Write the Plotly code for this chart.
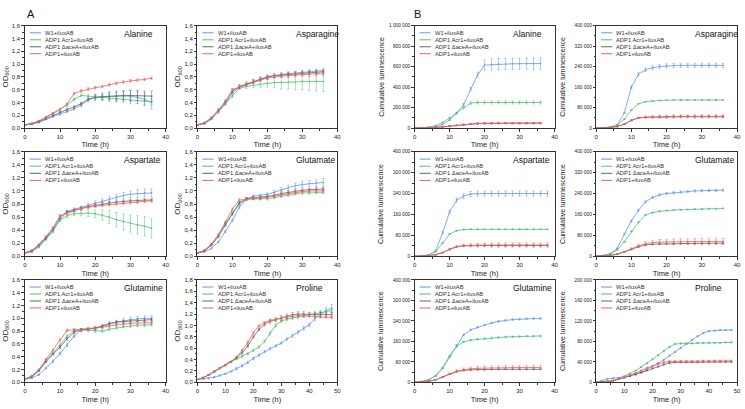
import plotly.graph_objects as go

# ---------------- data ----------------
strains = ["W1+iluxAB", "ADP1 Acr1+iluxAB", "ADP1 ΔaceA+iluxAB", "ADP1+iluxAB"]
colors = ["#6496ee", "#52c278", "#666666", "#f05f5f"]

t_od = [0, 2, 4, 6, 8, 10, 12, 14, 16, 18, 20, 22, 24, 26, 28, 30, 32, 34, 36]
t_48 = [0, 2, 4, 6, 8, 10, 12, 14, 16, 18, 20, 22, 24, 26, 28, 30, 32, 34, 36, 38, 40, 42, 44, 46, 48]
t_38 = [0, 2, 4, 6, 8, 10, 12, 14, 16, 18, 20, 22, 24, 26, 28, 30, 32, 34, 36, 38]

# OD600 - Alanine
ala_od_w1 = [0.05,0.06,0.09,0.14,0.18,0.22,0.26,0.30,0.36,0.44,0.48,0.49,0.50,0.50,0.50,0.50,0.48,0.45,0.40]
ala_od_acr = [0.05,0.07,0.11,0.17,0.23,0.29,0.36,0.45,0.51,0.50,0.49,0.48,0.46,0.45,0.44,0.43,0.43,0.42,0.41]
ala_od_ace = [0.05,0.07,0.10,0.15,0.20,0.25,0.29,0.33,0.38,0.45,0.48,0.49,0.50,0.50,0.51,0.51,0.51,0.50,0.50]
ala_od_adp = [0.05,0.07,0.11,0.17,0.23,0.29,0.38,0.54,0.58,0.61,0.63,0.65,0.68,0.70,0.72,0.74,0.75,0.76,0.78]
ala_od_w1_e = [0,0.005,0.01,0.01,0.01,0.02,0.02,0.02,0.03,0.03,0.05,0.06,0.07,0.08,0.08,0.09,0.09,0.1,0.1]
ala_od_acr_e = [0,0.005,0.01,0.01,0.01,0.01,0.02,0.02,0.02,0.03,0.03,0.03,0.04,0.04,0.04,0.05,0.05,0.05,0.05]
ala_od_ace_e = [0,0.005,0.01,0.01,0.01,0.01,0.02,0.02,0.02,0.02,0.03,0.04,0.05,0.06,0.07,0.08,0.08,0.08,0.08]
ala_od_adp_e = [0,0.005,0.01,0.01,0.01,0.01,0.01,0.02,0.02,0.02,0.02,0.02,0.02,0.02,0.02,0.02,0.02,0.02,0.02]

# OD600 - Asparagine
asn_od_w1 = [0.05,0.07,0.14,0.25,0.38,0.55,0.64,0.68,0.73,0.77,0.80,0.82,0.84,0.85,0.86,0.87,0.88,0.89,0.90]
asn_od_acr = [0.05,0.08,0.16,0.28,0.38,0.50,0.62,0.65,0.67,0.69,0.70,0.71,0.71,0.72,0.72,0.73,0.73,0.73,0.73]
asn_od_ace = [0.05,0.08,0.16,0.28,0.42,0.58,0.65,0.69,0.73,0.77,0.80,0.82,0.83,0.84,0.85,0.86,0.87,0.87,0.88]
asn_od_adp = [0.05,0.08,0.15,0.27,0.40,0.60,0.64,0.68,0.72,0.75,0.78,0.80,0.81,0.82,0.83,0.84,0.84,0.85,0.85]
asn_od_w1_e = [0,0.01,0.01,0.02,0.02,0.02,0.02,0.02,0.02,0.02,0.02,0.02,0.02,0.03,0.03,0.03,0.03,0.03,0.03]
asn_od_acr_e = [0,0.01,0.01,0.02,0.02,0.02,0.02,0.03,0.04,0.05,0.06,0.08,0.1,0.11,0.12,0.13,0.14,0.15,0.16]
asn_od_ace_e = [0,0.01,0.01,0.02,0.02,0.03,0.03,0.03,0.03,0.03,0.03,0.03,0.03,0.03,0.03,0.03,0.03,0.03,0.03]
asn_od_adp_e = [0,0.01,0.01,0.02,0.02,0.02,0.02,0.02,0.02,0.02,0.02,0.02,0.02,0.03,0.03,0.03,0.03,0.03,0.03]

# OD600 - Aspartate
asp_od_w1 = [0.05,0.07,0.14,0.26,0.38,0.56,0.68,0.72,0.75,0.78,0.82,0.85,0.88,0.91,0.93,0.95,0.96,0.97,0.97]
asp_od_acr = [0.05,0.08,0.16,0.28,0.40,0.55,0.62,0.65,0.66,0.66,0.65,0.63,0.60,0.56,0.53,0.50,0.48,0.46,0.43]
asp_od_ace = [0.05,0.08,0.17,0.28,0.42,0.60,0.68,0.70,0.73,0.76,0.78,0.80,0.82,0.83,0.84,0.85,0.85,0.86,0.86]
asp_od_adp = [0.05,0.09,0.18,0.30,0.43,0.62,0.66,0.70,0.73,0.75,0.77,0.78,0.79,0.80,0.81,0.82,0.83,0.84,0.85]
asp_od_w1_e = [0,0.01,0.01,0.02,0.02,0.02,0.02,0.02,0.02,0.03,0.03,0.03,0.04,0.04,0.05,0.05,0.06,0.06,0.06]
asp_od_acr_e = [0,0.01,0.01,0.02,0.02,0.02,0.03,0.03,0.04,0.05,0.06,0.08,0.1,0.11,0.12,0.13,0.14,0.15,0.15]
asp_od_ace_e = [0,0.01,0.01,0.02,0.02,0.02,0.02,0.02,0.02,0.02,0.02,0.02,0.02,0.02,0.02,0.02,0.02,0.02,0.02]
asp_od_adp_e = [0,0.01,0.01,0.01,0.02,0.02,0.02,0.02,0.02,0.02,0.02,0.02,0.02,0.02,0.02,0.02,0.02,0.02,0.02]

# OD600 - Glutamate
glu_od_w1 = [0.05,0.07,0.12,0.22,0.38,0.55,0.75,0.88,0.92,0.93,0.95,0.98,1.02,1.05,1.08,1.10,1.11,1.12,1.13]
glu_od_acr = [0.05,0.09,0.18,0.32,0.50,0.66,0.80,0.87,0.88,0.88,0.88,0.90,0.92,0.94,0.96,0.97,0.97,0.98,0.98]
glu_od_ace = [0.05,0.08,0.17,0.30,0.48,0.65,0.82,0.88,0.89,0.90,0.91,0.93,0.96,0.98,1.00,1.01,1.02,1.03,1.03]
glu_od_adp = [0.05,0.09,0.19,0.33,0.52,0.72,0.86,0.88,0.89,0.89,0.90,0.92,0.94,0.96,0.98,0.99,1.00,1.00,1.00]
glu_od_w1_e = [0,0.01,0.01,0.01,0.02,0.02,0.02,0.02,0.02,0.02,0.02,0.03,0.03,0.04,0.04,0.05,0.05,0.05,0.06]
glu_od_acr_e = [0,0.01,0.01,0.01,0.02,0.02,0.02,0.02,0.02,0.02,0.02,0.02,0.02,0.02,0.02,0.02,0.02,0.02,0.02]
glu_od_ace_e = [0,0.01,0.01,0.01,0.02,0.02,0.02,0.02,0.02,0.02,0.02,0.02,0.02,0.02,0.02,0.02,0.02,0.02,0.02]
glu_od_adp_e = [0,0.01,0.01,0.01,0.02,0.02,0.02,0.02,0.02,0.02,0.02,0.02,0.02,0.02,0.02,0.02,0.02,0.02,0.02]

# OD600 - Glutamine
gln_od_w1 = [0.05,0.07,0.12,0.22,0.33,0.45,0.58,0.72,0.82,0.83,0.84,0.87,0.91,0.94,0.96,0.98,0.99,1.00,1.00]
gln_od_acr = [0.05,0.09,0.19,0.34,0.46,0.58,0.72,0.81,0.82,0.81,0.80,0.80,0.83,0.85,0.87,0.88,0.89,0.89,0.90]
gln_od_ace = [0.05,0.09,0.18,0.32,0.44,0.55,0.68,0.78,0.82,0.83,0.85,0.88,0.92,0.94,0.95,0.96,0.97,0.97,0.98]
gln_od_adp = [0.05,0.10,0.20,0.36,0.50,0.66,0.81,0.82,0.82,0.83,0.84,0.86,0.88,0.90,0.91,0.92,0.93,0.93,0.93]
gln_od_w1_e = [0,0.01,0.01,0.01,0.02,0.02,0.02,0.02,0.02,0.02,0.02,0.02,0.03,0.03,0.04,0.04,0.04,0.04,0.04]
gln_od_acr_e = [0,0.01,0.01,0.01,0.01,0.02,0.02,0.02,0.02,0.02,0.02,0.02,0.02,0.02,0.02,0.02,0.02,0.02,0.02]
gln_od_ace_e = [0,0.01,0.01,0.01,0.01,0.02,0.02,0.02,0.02,0.02,0.02,0.02,0.02,0.02,0.02,0.02,0.02,0.02,0.02]
gln_od_adp_e = [0,0.01,0.01,0.01,0.01,0.02,0.02,0.02,0.02,0.02,0.02,0.02,0.02,0.02,0.02,0.02,0.02,0.02,0.02]

# OD600 - Proline (0-48 h)
pro_od_w1 = [0.05,0.06,0.07,0.09,0.12,0.15,0.19,0.24,0.29,0.35,0.42,0.48,0.54,0.59,0.64,0.69,0.76,0.82,0.88,0.95,1.01,1.12,1.20,1.26,1.30]
pro_od_acr = [0.05,0.08,0.13,0.19,0.25,0.30,0.36,0.41,0.46,0.50,0.56,0.62,0.72,0.86,1.00,1.08,1.11,1.13,1.15,1.17,1.19,1.21,1.23,1.25,1.26]
pro_od_ace = [0.05,0.08,0.13,0.19,0.25,0.30,0.36,0.43,0.52,0.64,0.80,0.93,1.02,1.07,1.10,1.13,1.16,1.19,1.20,1.20,1.19,1.19,1.19,1.19,1.19]
pro_od_adp = [0.05,0.08,0.13,0.19,0.25,0.30,0.36,0.45,0.56,0.70,0.87,0.99,1.05,1.09,1.11,1.13,1.15,1.16,1.17,1.17,1.17,1.16,1.15,1.15,1.14]
pro_od_w1_e = [0,0.01,0.01,0.01,0.01,0.01,0.01,0.02,0.02,0.02,0.02,0.02,0.02,0.02,0.02,0.02,0.02,0.03,0.03,0.03,0.03,0.04,0.05,0.06,0.07]
pro_od_acr_e = [0,0.01,0.01,0.01,0.01,0.01,0.01,0.01,0.02,0.02,0.02,0.02,0.02,0.03,0.03,0.03,0.03,0.03,0.03,0.03,0.03,0.03,0.03,0.03,0.03]
pro_od_ace_e = [0,0.01,0.01,0.01,0.01,0.01,0.01,0.01,0.02,0.02,0.02,0.02,0.03,0.03,0.03,0.04,0.04,0.04,0.04,0.04,0.04,0.04,0.04,0.04,0.04]
pro_od_adp_e = [0,0.01,0.01,0.01,0.01,0.01,0.01,0.01,0.02,0.02,0.02,0.02,0.02,0.02,0.02,0.02,0.02,0.02,0.02,0.02,0.02,0.02,0.02,0.02,0.02]

# Cumulative luminescence - Alanine
ala_lu_w1 = [0,1000,4000,12000,35000,80000,145000,230000,380000,520000,615000,620000,625000,626000,628000,629000,630000,630000,630000]
ala_lu_acr = [0,3000,10000,25000,55000,100000,150000,200000,245000,250000,250000,250000,250000,250000,250000,250000,250000,250000,250000]
ala_lu_ace = [0,1000,3000,6000,12000,20000,28000,36000,42000,46000,48000,49000,50000,50000,50000,50000,50000,50000,50000]
ala_lu_adp = [0,1000,3000,6000,11000,18000,26000,34000,40000,43000,45000,46000,46000,47000,47000,47000,47000,47000,47000]
ala_lu_w1_e = [0,500,1000,2000,4000,6000,8000,12000,18000,25000,50000,55000,55000,55000,55000,55000,55000,55000,55000]
ala_lu_acr_e = [0,500,1000,2000,3000,5000,8000,10000,12000,15000,15000,15000,15000,15000,15000,15000,15000,15000,15000]
ala_lu_ace_e = [0,200,500,1000,1500,2000,3000,4000,5000,5000,5000,5000,5000,5000,5000,5000,5000,5000,5000]
ala_lu_adp_e = [0,200,500,1000,1500,2000,3000,4000,6000,7000,8000,8000,8000,8000,8000,8000,8000,8000,8000]

# Cumulative luminescence - Asparagine
asn_lu_w1 = [0,1000,4000,12000,60000,160000,210000,228000,236000,240000,243000,244000,245000,245000,245000,245000,245000,245000,245000]
asn_lu_acr = [0,1000,4000,12000,35000,70000,95000,103000,106000,108000,109000,110000,110000,110000,110000,110000,110000,110000,110000]
asn_lu_ace = [0,500,2000,6000,15000,30000,40000,42000,43000,44000,44000,45000,45000,45000,45000,45000,45000,45000,45000]
asn_lu_adp = [0,500,2000,6000,16000,31000,40000,43000,44000,45000,45000,46000,46000,46000,46000,46000,46000,46000,46000]
asn_lu_w1_e = [0,300,600,1000,3000,5000,6000,7000,8000,8000,8000,8000,8000,8000,8000,8000,8000,8000,8000]
asn_lu_acr_e = [0,300,600,800,1000,1500,1500,1500,1500,1500,1500,1500,1500,1500,1500,1500,1500,1500,1500]
asn_lu_ace_e = [0,200,400,600,1000,1500,2000,2500,3000,3000,3000,3000,3000,3000,3000,3000,3000,3000,3000]
asn_lu_adp_e = [0,200,400,600,1000,2000,3000,4000,5000,6000,6000,6000,6000,6000,6000,6000,6000,6000,6000]

# Cumulative luminescence - Aspartate (0-38 h)
asp_lu_w1 = [0,1000,5000,20000,90000,170000,215000,230000,238000,240000,240000,240000,240000,240000,240000,240000,240000,240000,240000,240000]
asp_lu_acr = [0,1000,5000,18000,50000,85000,98000,102000,103000,103000,103000,103000,103000,103000,103000,103000,103000,103000,103000,103000]
asp_lu_ace = [0,500,2000,6000,14000,26000,36000,40000,41000,41000,41000,41000,41000,41000,41000,41000,41000,41000,41000,41000]
asp_lu_adp = [0,500,2000,6000,14000,27000,37000,41000,42000,42000,43000,43000,43000,43000,43000,43000,43000,43000,43000,43000]
asp_lu_w1_e = [0,300,800,2000,4000,6000,8000,9000,10000,10000,10000,10000,10000,10000,10000,10000,10000,10000,10000,10000]
asp_lu_acr_e = [0,300,600,800,1000,1500,1500,1500,1500,1500,1500,1500,1500,1500,1500,1500,1500,1500,1500,1500]
asp_lu_ace_e = [0,200,400,600,1000,1500,2000,2500,3000,3000,3000,3000,3000,3000,3000,3000,3000,3000,3000,3000]
asp_lu_adp_e = [0,200,400,600,1000,2000,3000,5000,6000,7000,7000,8000,8000,8000,8000,8000,8000,8000,8000,8000]

# Cumulative luminescence - Glutamate
glu_lu_w1 = [0,3000,10000,30000,85000,135000,176000,208000,225000,235000,240000,243000,246000,248000,250000,251000,252000,252000,253000]
glu_lu_acr = [0,2000,8000,25000,55000,95000,130000,158000,167000,172000,175000,177000,178000,179000,180000,181000,182000,182000,183000]
glu_lu_ace = [0,1000,3000,8000,16000,26000,36000,43000,46000,47000,48000,48000,49000,49000,49000,49000,50000,50000,50000]
glu_lu_adp = [0,1000,3000,8000,17000,28000,40000,48000,52000,54000,55000,55000,56000,56000,56000,56000,57000,57000,57000]
glu_lu_w1_e = [0,500,1000,2000,3000,4000,4000,4000,4000,4000,4000,4000,4000,4000,4000,4000,4000,4000,4000]
glu_lu_acr_e = [0,500,1000,1500,2000,2000,2000,2000,2000,2000,2000,2000,2000,2000,2000,2000,2000,2000,2000]
glu_lu_ace_e = [0,200,500,800,1000,1500,2000,2000,2000,2000,2000,2000,2000,2000,2000,2000,2000,2000,2000]
glu_lu_adp_e = [0,300,600,1000,2000,4000,6000,8000,9000,10000,10000,11000,11000,11000,11000,12000,12000,12000,12000]

# Cumulative luminescence - Glutamine
gln_lu_w1 = [0,3000,10000,25000,55000,100000,145000,185000,205000,215000,224000,232000,238000,242000,245000,246000,248000,249000,249000]
gln_lu_acr = [0,3000,10000,25000,57000,104000,140000,158000,165000,168000,171000,173000,175000,177000,178000,179000,180000,180000,181000]
gln_lu_ace = [0,1000,4000,10000,20000,32000,42000,47000,49000,50000,50000,51000,51000,51000,51000,51000,51000,51000,51000]
gln_lu_adp = [0,1000,4000,10000,20000,33000,44000,50000,53000,55000,56000,57000,57000,58000,58000,58000,58000,58000,58000]
gln_lu_w1_e = [0,500,1000,1500,2000,2500,3000,3000,3000,3000,3000,3000,3000,3000,3000,3000,3000,3000,3000]
gln_lu_acr_e = [0,500,1000,1500,2000,2500,3000,3000,3000,3000,3000,3000,3000,3000,3000,3000,3000,3000,3000]
gln_lu_ace_e = [0,200,500,800,1000,1500,2000,2000,2000,2000,2000,2000,2000,2000,2000,2000,2000,2000,2000]
gln_lu_adp_e = [0,300,600,1000,2000,3000,5000,6000,6000,7000,7000,7000,7000,7000,7000,7000,7000,7000,7000]

# Cumulative luminescence - Proline (0-48 h)
pro_lu_w1 = [0,3000,7000,8000,9000,11000,13000,16000,20000,25000,31000,37000,44000,52000,59000,67000,75000,83000,90000,96000,100000,101000,102000,102000,102000]
pro_lu_acr = [0,1000,2000,4000,7000,12000,17000,23000,30000,37000,45000,53000,61000,69000,75000,76000,76000,76000,77000,77000,77000,77000,77000,78000,78000]
pro_lu_ace = [0,500,1500,3000,6000,9000,12000,15000,19000,23000,27000,31000,35000,38000,39000,39000,39000,39000,39000,40000,40000,40000,40000,40000,40000]
pro_lu_adp = [0,500,1500,3000,6000,10000,14000,18000,23000,28000,32000,36000,39000,41000,41000,41000,41000,41000,41000,42000,42000,42000,42000,42000,42000]
pro_lu_w1_e = [0,300,500,500,500,700,800,800,1000,1000,1000,1000,1000,1000,1000,1000,1000,1000,1000,1000,1000,1000,1000,1000,1000]
pro_lu_acr_e = [0,300,500,500,500,700,800,800,1000,1000,1000,1000,1000,1000,1000,1000,1000,1000,1000,1000,1000,1000,1000,1000,1000]
pro_lu_ace_e = [0,200,300,400,500,600,700,800,900,1000,1000,1000,1000,1000,1000,1000,1000,1000,1000,1000,1000,1000,1000,1000,1000]
pro_lu_adp_e = [0,200,300,400,500,700,900,1000,1200,1500,1500,1500,1500,1500,1500,1500,1500,1500,1500,1500,1500,1500,1500,1500,1500]

# tick labels
od_tickvals = [0, 0.2, 0.4, 0.6, 0.8, 1.0, 1.2, 1.4, 1.6]
od_ticktext_comma = ["0,0", "0,2", "0,4", "0,6", "0,8", "1,0", "1,2", "1,4", "1,6"]
od_ticktext_dot = ["0.0", "0.2", "0.4", "0.6", "0.8", "1.0", "1.2", "1.4", "1.6"]
od18_tickvals = [0, 0.2, 0.4, 0.6, 0.8, 1.0, 1.2, 1.4, 1.6, 1.8]
od18_ticktext = ["0,0", "0,2", "0,4", "0,6", "0,8", "1,0", "1,2", "1,4", "1,6", "1,8"]
lu1m_tickvals = [0, 200000, 400000, 600000, 800000, 1000000]
lu1m_ticktext = ["0", "200 000", "400 000", "600 000", "800 000", "1 000 000"]
lu400_tickvals = [0, 80000, 160000, 240000, 320000, 400000]
lu400_ticktext = ["0", "80 000", "160 000", "240 000", "320 000", "400 000"]
lu200_tickvals = [0, 40000, 80000, 120000, 160000, 200000]
lu200_ticktext = ["0", "40 000", "80 000", "120 000", "160 000", "200 000"]
x40_ticks = [0, 10, 20, 30, 40]
x50_ticks = [0, 10, 20, 30, 40, 50]

# ---------------- layout ----------------
W, H = 745, 409
cols_px = [(23, 165), (197, 338), (416, 557), (599, 741)]
rows_px = [(23, 127), (151, 257), (281, 385)]
FONT = "Liberation Sans, Arial, sans-serif"

panels = [
    ("Alanine", 0, 0, t_od, [ala_od_w1, ala_od_acr, ala_od_ace, ala_od_adp],
     [ala_od_w1_e, ala_od_acr_e, ala_od_ace_e, ala_od_adp_e], "od"),
    ("Asparagine", 0, 1, t_od, [asn_od_w1, asn_od_acr, asn_od_ace, asn_od_adp],
     [asn_od_w1_e, asn_od_acr_e, asn_od_ace_e, asn_od_adp_e], "od"),
    ("Aspartate", 1, 0, t_od, [asp_od_w1, asp_od_acr, asp_od_ace, asp_od_adp],
     [asp_od_w1_e, asp_od_acr_e, asp_od_ace_e, asp_od_adp_e], "od"),
    ("Glutamate", 1, 1, t_od, [glu_od_w1, glu_od_acr, glu_od_ace, glu_od_adp],
     [glu_od_w1_e, glu_od_acr_e, glu_od_ace_e, glu_od_adp_e], "od"),
    ("Glutamine", 2, 0, t_od, [gln_od_w1, gln_od_acr, gln_od_ace, gln_od_adp],
     [gln_od_w1_e, gln_od_acr_e, gln_od_ace_e, gln_od_adp_e], "od_dot"),
    ("Proline", 2, 1, t_48, [pro_od_w1, pro_od_acr, pro_od_ace, pro_od_adp],
     [pro_od_w1_e, pro_od_acr_e, pro_od_ace_e, pro_od_adp_e], "od18"),
    ("Alanine", 0, 2, t_od, [ala_lu_w1, ala_lu_acr, ala_lu_ace, ala_lu_adp],
     [ala_lu_w1_e, ala_lu_acr_e, ala_lu_ace_e, ala_lu_adp_e], "lu1m"),
    ("Asparagine", 0, 3, t_od, [asn_lu_w1, asn_lu_acr, asn_lu_ace, asn_lu_adp],
     [asn_lu_w1_e, asn_lu_acr_e, asn_lu_ace_e, asn_lu_adp_e], "lu400"),
    ("Aspartate", 1, 2, t_38, [asp_lu_w1, asp_lu_acr, asp_lu_ace, asp_lu_adp],
     [asp_lu_w1_e, asp_lu_acr_e, asp_lu_ace_e, asp_lu_adp_e], "lu400"),
    ("Glutamate", 1, 3, t_od, [glu_lu_w1, glu_lu_acr, glu_lu_ace, glu_lu_adp],
     [glu_lu_w1_e, glu_lu_acr_e, glu_lu_ace_e, glu_lu_adp_e], "lu400"),
    ("Glutamine", 2, 2, t_od, [gln_lu_w1, gln_lu_acr, gln_lu_ace, gln_lu_adp],
     [gln_lu_w1_e, gln_lu_acr_e, gln_lu_ace_e, gln_lu_adp_e], "lu400"),
    ("Proline", 2, 3, t_48, [pro_lu_w1, pro_lu_acr, pro_lu_ace, pro_lu_adp],
     [pro_lu_w1_e, pro_lu_acr_e, pro_lu_ace_e, pro_lu_adp_e], "lu200"),
]

fig = go.Figure()
layout = dict(
    width=W, height=H, margin=dict(l=0, r=0, t=0, b=0),
    paper_bgcolor="white", plot_bgcolor="white", showlegend=False,
    font=dict(family=FONT, color="#222"),
)
annotations = []
shapes = []
leg_y = [0.93, 0.862, 0.794, 0.726]

for i, (name, r, c, t, series, errs, kind) in enumerate(panels):
    k = i + 1
    sx = "" if k == 1 else str(k)
    xref, yref = "x" + sx, "y" + sx
    for s, (vals, err, col) in enumerate(zip(series, errs, colors)):
        fig.add_trace(go.Scatter(
            x=t, y=vals, mode="lines+markers", name=strains[s],
            line=dict(color=col, width=0.8),
            marker=dict(size=1.6, color=col),
            error_y=dict(type="data", array=err, color=col, thickness=0.5, width=1.2),
            xaxis=xref, yaxis=yref, showlegend=False,
        ))
    x0, x1 = cols_px[c]
    y0, y1 = rows_px[r]
    is_pro = name == "Proline"
    xt = x50_ticks if is_pro else x40_ticks
    layout["xaxis" + sx] = dict(
        domain=[x0 / W, x1 / W], anchor=yref, range=[0, 50 if is_pro else 40],
        tickvals=xt, ticktext=[str(v) for v in xt],
        showline=True, mirror=True, linecolor="#333", linewidth=0.8,
        ticks="outside", ticklen=2.5, tickwidth=0.6, tickcolor="#333",
        tickfont=dict(size=6, family=FONT, color="#222"),
        minor=dict(ticks="outside", ticklen=1.5, tickwidth=0.5, dtick=5, tickcolor="#333"),
        showgrid=False, zeroline=False,
        title=dict(text="Time (h)", font=dict(size=7.5, family=FONT, color="#222"), standoff=3),
    )
    if kind.startswith("od"):
        if kind == "od18":
            tv, tt, yr = od18_tickvals, od18_ticktext, [0, 1.8]
        elif kind == "od_dot":
            tv, tt, yr = od_tickvals, od_ticktext_dot, [0, 1.6]
        else:
            tv, tt, yr = od_tickvals, od_ticktext_comma, [0, 1.6]
        ytitle = "OD<sub>600</sub>"
        yfs, ytfs, ystand, mdt = 6, 8, 2, 0.1
    else:
        if kind == "lu1m":
            tv, tt, yr, mdt = lu1m_tickvals, lu1m_ticktext, [0, 1000000], 100000
        elif kind == "lu200":
            tv, tt, yr, mdt = lu200_tickvals, lu200_ticktext, [0, 200000], 20000
        else:
            tv, tt, yr, mdt = lu400_tickvals, lu400_ticktext, [0, 400000], 40000
        ytitle = "Cumulative luminescence"
        yfs, ytfs = 4.8, 7
        ystand = 3 if kind == "lu1m" else 8
    layout["yaxis" + sx] = dict(
        domain=[1 - y1 / H, 1 - y0 / H], anchor=xref, range=yr,
        tickvals=tv, ticktext=tt,
        showline=True, mirror=True, linecolor="#333", linewidth=0.8,
        ticks="outside", ticklen=2.5, tickwidth=0.6, tickcolor="#333",
        tickfont=dict(size=yfs, family=FONT, color="#222"),
        minor=dict(ticks="outside", ticklen=1.5, tickwidth=0.5, dtick=mdt, tickcolor="#333"),
        showgrid=False, zeroline=False,
        title=dict(text=ytitle, font=dict(size=ytfs, family=FONT, color="#222"), standoff=ystand),
    )
    annotations.append(dict(
        text=name, xref=xref + " domain", yref=yref + " domain", x=0.69, y=0.92,
        xanchor="left", yanchor="middle", showarrow=False,
        font=dict(size=8.5, family=FONT, color="#111"),
    ))
    for s in range(4):
        shapes.append(dict(
            type="line", xref=xref + " domain", yref=yref + " domain",
            x0=0.035, x1=0.115, y0=leg_y[s], y1=leg_y[s],
            line=dict(color=colors[s], width=1),
        ))
        annotations.append(dict(
            text=strains[s], xref=xref + " domain", yref=yref + " domain",
            x=0.13, y=leg_y[s], xanchor="left", yanchor="middle", showarrow=False,
            font=dict(size=5.8, family=FONT, color="#333"),
        ))

annotations.append(dict(text="A", xref="paper", yref="paper", x=23 / W, y=1 - 3 / H,
                        xanchor="left", yanchor="top", showarrow=False,
                        font=dict(size=11, family=FONT, color="#111")))
annotations.append(dict(text="B", xref="paper", yref="paper", x=413 / W, y=1 - 3 / H,
                        xanchor="left", yanchor="top", showarrow=False,
                        font=dict(size=11, family=FONT, color="#111")))

layout["annotations"] = annotations
layout["shapes"] = shapes
fig.update_layout(**layout)
fig.write_html("out.html", config={"displayModeBar": False},
               post_script="document.body.style.margin='0';document.body.style.padding='0';")
